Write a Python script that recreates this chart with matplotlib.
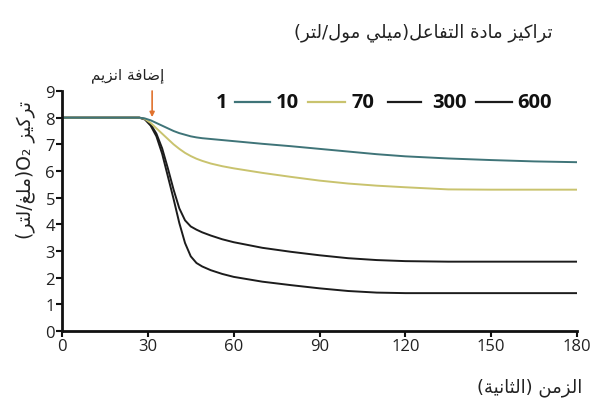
import matplotlib
matplotlib.use('Agg')
import matplotlib.pyplot as plt
from matplotlib.lines import Line2D

# Arabic letters -> first codepoint of their presentation forms
# (isolated, final, initial, medial follow in that order)
# dual = joins on both sides, right = joins only to the previous letter
ARABIC = {
    'ا': (0xFE8D, 'right'), 'إ': (0xFE87, 'right'), 'د': (0xFEA9, 'right'),
    'ر': (0xFEAD, 'right'), 'ز': (0xFEAF, 'right'), 'و': (0xFEED, 'right'),
    'ة': (0xFE93, 'right'),
    'ت': (0xFE95, 'dual'), 'ث': (0xFE99, 'dual'), 'ض': (0xFEBD, 'dual'),
    'ع': (0xFEC9, 'dual'), 'غ': (0xFECD, 'dual'), 'ف': (0xFED1, 'dual'),
    'ك': (0xFED9, 'dual'), 'ل': (0xFEDD, 'dual'), 'م': (0xFEE1, 'dual'),
    'ن': (0xFEE5, 'dual'), 'ي': (0xFEF1, 'dual'),
}
MIRROR = {'(': ')', ')': '('}


# join the letters and put them in display (left to right) order
def arabic(text):
    out = []
    for i, ch in enumerate(text):
        if ch not in ARABIC:
            out.append(ch)
            continue
        base, kind = ARABIC[ch]
        prev = text[i - 1] if i > 0 else ''
        nxt = text[i + 1] if i + 1 < len(text) else ''
        join_prev = prev in ARABIC and ARABIC[prev][1] == 'dual'
        join_next = kind == 'dual' and nxt in ARABIC
        if join_prev and join_next:
            form = 3
        elif join_next:
            form = 2
        elif join_prev:
            form = 1
        else:
            form = 0
        out.append(chr(base + form))
    return ''.join(MIRROR.get(c, c) for c in reversed(out))


# time (s) and O2 concentration (mg/L) for each substrate concentration
time = [0, 27, 29, 31, 33, 35, 37, 39, 41, 43, 45, 47, 49, 52, 56, 60,
        70, 80, 90, 100, 110, 120, 135, 150, 165, 180]
o2_1 = [8.0, 8.0, 7.97, 7.9, 7.8, 7.7, 7.6, 7.5, 7.42, 7.36, 7.3, 7.26, 7.23, 7.2, 7.16, 7.12,
        7.02, 6.93, 6.83, 6.73, 6.63, 6.55, 6.47, 6.41, 6.36, 6.33]
o2_10 = [8.0, 8.0, 7.95, 7.8, 7.6, 7.4, 7.2, 7.0, 6.83, 6.68, 6.56, 6.46, 6.38, 6.28, 6.18, 6.1,
         5.93, 5.78, 5.64, 5.53, 5.45, 5.39, 5.31, 5.3, 5.3, 5.3]
o2_70 = [8.0, 8.0, 7.95, 7.75, 7.4, 6.85, 6.1, 5.3, 4.6, 4.15, 3.92, 3.8, 3.7, 3.58, 3.44, 3.33,
         3.12, 2.97, 2.84, 2.73, 2.66, 2.62, 2.6, 2.6, 2.6, 2.6]
o2_300 = [8.0, 8.0, 7.93, 7.7, 7.3, 6.65, 5.8, 4.95, 4.05, 3.3, 2.8, 2.55, 2.42, 2.28, 2.14, 2.03,
          1.85, 1.72, 1.6, 1.5, 1.44, 1.42, 1.42, 1.42, 1.42, 1.42]

legend_labels = ['1', '10', '70', '300', '600']
enzyme_time = 31.5

W, H = 597, 410
fig = plt.figure(figsize=(W / 100, H / 100), dpi=100)
ax = fig.add_axes([62 / W, 1 - 332 / H, 515 / W, 240 / H])

teal = '#3f7478'
olive = '#c9c36e'
dark = '#1c1c1c'
ax.plot(time, o2_300, color=dark, lw=1.4, solid_joinstyle='round')
ax.plot(time, o2_70, color=dark, lw=1.4, solid_joinstyle='round')
ax.plot(time, o2_10, color=olive, lw=1.4, solid_joinstyle='round')
ax.plot(time, o2_1, color=teal, lw=1.4, solid_joinstyle='round')

ax.set_xlim(0, 180)
ax.set_ylim(0, 9)
ax.set_xticks([0, 30, 60, 90, 120, 150, 180])
ax.set_yticks(range(10))
for side in ['top', 'right']:
    ax.spines[side].set_visible(False)
for side in ['left', 'bottom']:
    ax.spines[side].set_linewidth(2)
    ax.spines[side].set_color('#111111')
ax.tick_params(direction='out', length=4, width=1.5, colors='#111111',
               labelsize=12, pad=1)
for lbl in ax.get_xticklabels() + ax.get_yticklabels():
    lbl.set_fontfamily('Open Sans')
    lbl.set_color('#222222')

# enzyme addition arrow
ax.annotate('', xy=(enzyme_time, 8.02), xytext=(enzyme_time, 9.0),
            arrowprops=dict(arrowstyle='-|>', color='#e0722e', lw=1.2,
                            mutation_scale=7, shrinkA=0, shrinkB=0),
            annotation_clip=False)
ax.text(23, 9.62, arabic('إضافة انزيم'), ha='center', va='center',
        fontsize=11, color='#222222', clip_on=False)

# substrate concentration key across the top
key_text_x = [222, 287, 363, 449, 535]
key_line_x = [(235, 270), (308, 345), (388, 421), (476, 512)]
key_colors = [teal, olive, dark, dark]
ky = 1 - 103 / H
for x, s in zip(key_text_x, legend_labels):
    fig.text(x / W, ky, s, ha='center', va='center', fontsize=14.5,
             fontweight='bold', family='Open Sans', color='#111111')
for (x0, x1), c in zip(key_line_x, key_colors):
    fig.add_artist(Line2D([x0 / W, x1 / W], [ky, ky], color=c, lw=1.6,
                          transform=fig.transFigure))

fig.text(553 / W, 1 - 33 / H, arabic('تراكيز مادة التفاعل(ميلي مول/لتر)'),
         ha='right', va='center', fontsize=13, color='#222222')
fig.text(582 / W, 1 - 388 / H, arabic('الزمن (الثانية)'),
         ha='right', va='center', fontsize=13, color='#222222')
fig.text(25 / W, 1 - 170 / H,
         arabic('(ملغ/لتر)') + 'O₂ ' + arabic('تركيز'),
         rotation=90, ha='center', va='center', fontsize=13.5, color='#222222')

fig.savefig('out.png', dpi=100, facecolor='white')
